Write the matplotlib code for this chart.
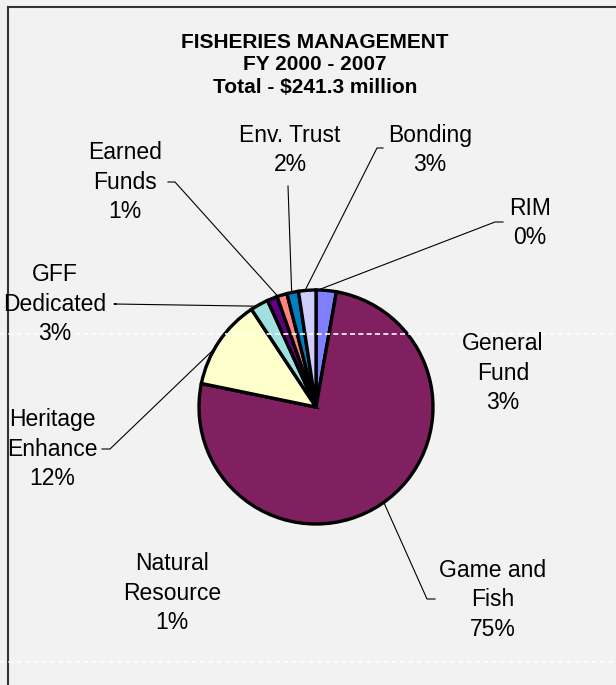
import numpy as np
import matplotlib
matplotlib.use("Agg")
import matplotlib.pyplot as plt

plt.rcParams['font.family'] = ['Liberation Sans', 'DejaVu Sans']

# funding sources, clockwise from 12 o'clock
sources = ['General\nFund', 'Game and\nFish', 'Natural\nResource', 'Heritage\nEnhance',
           'GFF\nDedicated', 'Earned\nFunds', 'Env. Trust', 'Bonding', 'RIM']
shares = [2.8, 75.5, 0.0, 12.5, 2.5, 1.4, 1.4, 1.6, 2.4]
pct_labels = ['3%', '75%', '1%', '12%', '3%', '1%', '2%', '3%', '0%']
colors = ['#8080FF', '#802060', '#802060', '#FFFFCC', '#A0E0E0',
          '#600080', '#FF8080', '#0080C0', '#CCCCFF']

W, H = 616, 685
fig = plt.figure(figsize=(W / 100, H / 100), dpi=100)
fig.patch.set_facecolor('#F2F2F2')
ax = fig.add_axes([0, 0, 1, 1])

cx, cy, r = 316, H - 407, 117
wedges, _ = ax.pie(shares, colors=colors, startangle=90, counterclock=False,
                   center=(cx, cy), radius=r, frame=True,
                   wedgeprops=dict(edgecolor='black', linewidth=2.4))
ax.set_xlim(0, W)
ax.set_ylim(0, H)
ax.set_aspect('equal')
ax.axis('off')

# frame and faint page lines
ax.plot([8, 8], [0, H - 7], color='#333333', lw=1.5)
ax.plot([8, W], [H - 7, H - 7], color='#333333', lw=1.5)
for yy in (334, 662):
    ax.plot([0, W], [H - yy, H - yy], color='white', lw=1.2, ls=(0, (3, 2)))

title_lines = ['FISHERIES MANAGEMENT', 'FY 2000 - 2007', 'Total - $241.3 million']
for k, t in enumerate(title_lines):
    ax.text(315, H - (42 + 22.5 * k), t, ha='center', va='center',
            fontsize=15, fontweight='bold')

# label centres (px) and leader lines: (elbow x, elbow y, angle on pie edge)
label_pos = [(503, 373), (493, 600), (172, 593), (52, 449), (55, 304),
             (125, 182), (290, 150), (430, 150), (530, 223)]
leaders = [None, (427, 599, -54.6), None, (110, 449, 150), (114, 304, 120.5),
           (175, 182, 109), (288, 186, 102), (377, 148, 95.4), (495, 222, 89)]
leader_start = [None, 435, None, 102, 116, 168, 288, 383, 503]

for i, name in enumerate(sources):
    x, y = label_pos[i]
    ax.text(x, H - y, name + '\n' + pct_labels[i], ha='center', va='center',
            fontsize=16.5, linespacing=1.38)
    if leaders[i] is not None:
        ex, ey, ang = leaders[i]
        px = cx + r * np.cos(np.radians(ang))
        py = cy + r * np.sin(np.radians(ang))
        sx = leader_start[i]
        if i == 6:
            ax.plot([ex, px], [H - ey, py], color='black', lw=0.8)
        else:
            ax.plot([sx, ex, px], [H - ey, H - ey, py], color='black', lw=0.8)

fig.savefig('out.png', dpi=100, facecolor=fig.get_facecolor())
